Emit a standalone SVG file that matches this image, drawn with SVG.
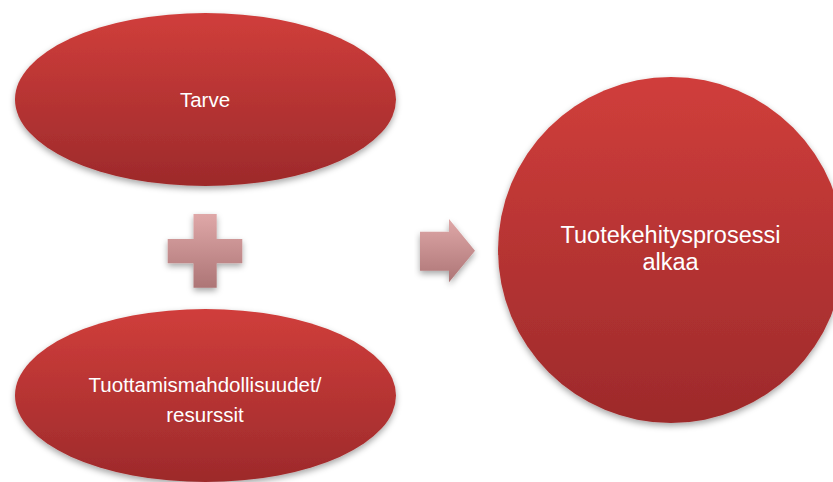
<svg xmlns="http://www.w3.org/2000/svg" width="833" height="482" viewBox="0 0 833 482">
<defs>
<linearGradient id="red" x1="0" y1="0" x2="0" y2="1">
<stop offset="0" stop-color="#d03e3b"/>
<stop offset="1" stop-color="#9d2a2b"/>
</linearGradient>
<linearGradient id="pink" x1="0" y1="0" x2="0" y2="1">
<stop offset="0" stop-color="#dfa8a8"/>
<stop offset="1" stop-color="#ad7576"/>
</linearGradient>
<filter id="sh" x="-10%" y="-10%" width="120%" height="130%">
<feDropShadow dx="0" dy="3" stdDeviation="3" flood-color="#000" flood-opacity="0.35"/>
</filter>
</defs>
<style>
.node{fill:url(#red);filter:url(#sh)}
.op{fill:url(#pink);filter:url(#sh)}
text{font-family:"Liberation Sans",Arial,sans-serif;fill:#fff;text-anchor:middle}
</style>
<rect width="833" height="482" fill="#fff"/>
<g id="tarve">
<ellipse class="node" cx="205.5" cy="99.5" rx="190.5" ry="86.5"/>
<text x="205" y="107" font-size="20.5">Tarve</text>
</g>
<g id="resurssit">
<ellipse class="node" cx="205.5" cy="395.5" rx="190.5" ry="86.5"/>
<text x="205" y="392" font-size="20.5">Tuottamismahdollisuudet/</text>
<text x="205" y="422" font-size="20.5">resurssit</text>
</g>
<g id="prosessi">
<circle class="node" cx="671" cy="250" r="173"/>
<text x="670.5" y="243" font-size="23.5">Tuotekehitysprosessi</text>
<text x="670.5" y="270" font-size="23.5">alkaa</text>
</g>
<g id="connectors">
<path id="plus" class="op" d="M193.5 214H216.7V239H242.3V263.3H216.7V287.7H193.5V263.3H167.7V239H193.5Z"/>
<path id="arrow" class="op" d="M420 231.7H449V219L475 250.7L449 282.3V270.7H420Z"/>
</g>
</svg>
